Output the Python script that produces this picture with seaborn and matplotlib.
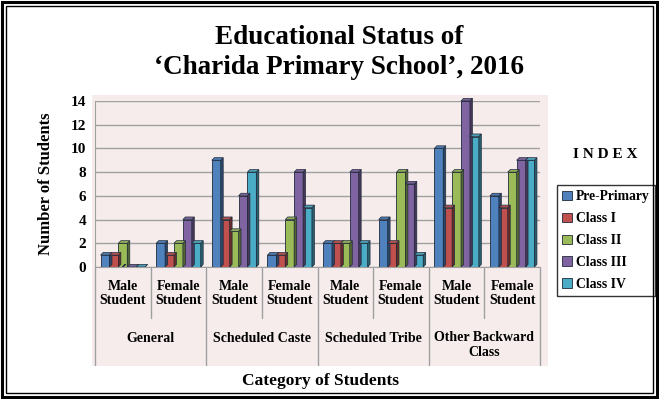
import matplotlib
matplotlib.use("Agg")
import matplotlib.pyplot as plt
import matplotlib.colors as mcolors
import seaborn as sns
import pandas as pd
from matplotlib.patches import Rectangle, Polygon
from matplotlib.lines import Line2D

categories = ["General", "Scheduled Caste", "Scheduled Tribe", "Other Backward\nClass"]
genders = ["Male\nStudent", "Female\nStudent"]
classes = ["Pre-Primary", "Class I", "Class II", "Class III", "Class IV"]
pre_primary = [1, 2, 9, 1, 2, 4, 10, 6]
class_1 = [1, 1, 4, 1, 2, 2, 5, 5]
class_2 = [2, 2, 3, 4, 2, 8, 8, 8]
class_3 = [0, 4, 6, 8, 8, 7, 14, 9]
class_4 = [0, 2, 8, 5, 2, 1, 11, 9]
colors = ["#4F81BD", "#C0504D", "#9BBB59", "#8064A2", "#4BACC6"]

sns.set_style("white")
plt.rcParams["font.family"] = ["Liberation Serif", "DejaVu Serif"]
plt.rcParams["text.color"] = "black"
plt.rcParams["axes.labelcolor"] = "black"
plt.rcParams["ytick.color"] = "black"

groups = [f"{c}|{g}" for c in categories for g in genders]
rows = []
for cls, vals in zip(classes, [pre_primary, class_1, class_2, class_3, class_4]):
    for grp, v in zip(groups, vals):
        rows.append({"group": grp, "Class": cls, "value": v})
df = pd.DataFrame(rows)

fig = plt.figure(figsize=(6.59, 3.99), dpi=100)
fig.patch.set_facecolor("white")
pink = "#F6ECEC"

fig.patches.append(Rectangle((92/659, 1-366/399), (548-92)/659, (366-95)/399,
                             transform=fig.transFigure, facecolor=pink, edgecolor="none", zorder=-10))
for off, lw in [(2, 2.2), (6, 1.0)]:
    fig.patches.append(Rectangle((off/659, off/399), 1-2*off/659, 1-2*off/399,
                                 transform=fig.transFigure, fill=False, edgecolor="black", lw=lw, zorder=5))

ax = fig.add_axes([95/659, 1-267/399, (540-95)/659, (267-101)/399])
ax.set_zorder(1)
ax.set_facecolor(pink)
sns.barplot(data=df, x="group", y="value", hue="Class", palette=colors, width=0.8,
            edgecolor="#1f2a3a", linewidth=0.6, ax=ax, legend=True, saturation=1)
ax.set_ylim(0, 14)
ax.set_xlim(-0.5, 7.5)

# pseudo-3D faces derived from the drawn bars
dx, dy = 0.045, 0.22
for p in list(ax.patches):
    p.set_clip_on(False)
    x, w, h = p.get_x(), p.get_width(), p.get_height()
    fc = mcolors.to_rgb(p.get_facecolor())
    dark = tuple(c * 0.55 for c in fc)
    light = tuple(min(1, c * 0.85 + 0.05) for c in fc)
    side = Polygon([(x + w, 0), (x + w + dx, dy), (x + w + dx, h + dy), (x + w, h)],
                   closed=True, facecolor=dark, edgecolor="#1f2a3a", lw=0.5,
                   zorder=p.get_zorder(), clip_on=False)
    top = Polygon([(x, h), (x + dx, h + dy), (x + w + dx, h + dy), (x + w, h)],
                  closed=True, facecolor=light, edgecolor="#1f2a3a", lw=0.5,
                  zorder=p.get_zorder(), clip_on=False)
    ax.add_patch(side)
    ax.add_patch(top)

ax.set_yticks(range(0, 15, 2))
ax.tick_params(axis="y", labelsize=11, length=3, color="#888888", labelcolor="black")
for lab in ax.get_yticklabels():
    lab.set_fontweight("bold")
ax.set_xticks([])
ax.set_xlabel("")
ax.set_ylabel("Number of Students", fontsize=12, fontweight="bold", labelpad=12, color="black")
ax.grid(axis="y", color="#a0a0a0", lw=1.0)
ax.set_axisbelow(True)
for s in ["top", "right"]:
    ax.spines[s].set_visible(False)
ax.spines["left"].set_color("#a0a0a0")
ax.spines["bottom"].set_color("#a0a0a0")

trans = ax.get_xaxis_transform()
def fy(py):
    return (267 - py) / (267 - 101)
for i in range(9):
    x = i - 0.5
    top = fy(268)
    bot = fy(365) if i % 2 == 0 else fy(318)
    ax.add_line(Line2D([x, x], [top, bot], transform=trans, color="#a0a0a0", lw=1, clip_on=False))
for i, grp in enumerate(groups):
    cat, g = grp.split("|")
    ax.text(i, fy(293), g, transform=trans, ha="center", va="center", fontsize=10,
            fontweight="bold", linespacing=1.1)
for j, cat in enumerate(categories):
    ax.text(2*j + 0.5, fy(338) if "\n" not in cat else fy(345), cat, transform=trans,
            ha="center", va="center", fontsize=10, fontweight="bold", linespacing=1.15)

fig.text(320/659, 1-381/399, "Category of Students", ha="center", va="center",
         fontsize=12.5, fontweight="bold")
fig.text(339/659, 1-37/399, "Educational Status of", ha="center", va="center",
         fontsize=19.5, fontweight="bold")
fig.text(339/659, 1-67/399, "\u2018Charida Primary School\u2019, 2016", ha="center", va="center",
         fontsize=19.5, fontweight="bold")
fig.text(605/659, 1-155/399, "I N D E X", ha="center", va="center", fontsize=11, fontweight="bold")

leg = ax.legend(loc="upper left", bbox_to_anchor=(557/659, 1-185/399), bbox_transform=fig.transFigure,
                frameon=True, fancybox=False, edgecolor="black",
                prop={"weight": "bold", "size": 9.8}, handlelength=0.7, handleheight=0.7,
                handletextpad=0.3, borderpad=0.4, labelspacing=0.65, borderaxespad=0)
leg.get_frame().set_linewidth(1.0)
leg.set_title(None)

fig.savefig("out.png", dpi=100)
